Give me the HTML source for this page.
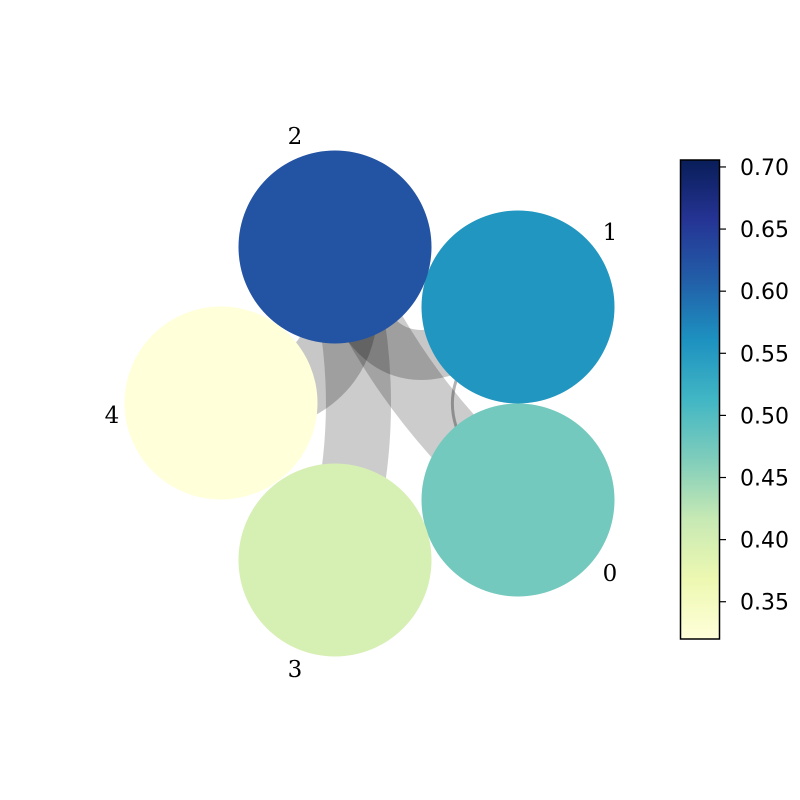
<!DOCTYPE html>
<html><head><meta charset="utf-8"><style>
html,body{margin:0;padding:0;background:#fff;}
svg{display:block;}
</style></head><body>
<svg id="chart" width="800" height="800" viewBox="0 0 800 800" xmlns="http://www.w3.org/2000/svg">
<defs>
<linearGradient id="cbgrad" x1="0" y1="1" x2="0" y2="0">
<stop offset="0" stop-color="#ffffd9"/><stop offset="0.125" stop-color="#edf8b1"/>
<stop offset="0.25" stop-color="#c7e9b4"/><stop offset="0.375" stop-color="#7fcdbb"/>
<stop offset="0.5" stop-color="#41b6c4"/><stop offset="0.625" stop-color="#1d91c0"/>
<stop offset="0.75" stop-color="#225ea8"/><stop offset="0.875" stop-color="#253494"/>
<stop offset="1" stop-color="#081d58"/>
</linearGradient>
</defs>
<g id="edges"></g><g id="nodes"></g><g id="labels"></g><g id="colorbar"></g>
</svg>
<script>
const nodeIds = ['0','1','2','3','4'];
const nodeValues = [0.474, 0.555, 0.622, 0.397, 0.32];
const edgeSources = [2, 2, 2, 2, 1];
const edgeTargets = [3, 0, 4, 1, 0];
const edgeWeights = [0.65, 0.6, 0.7, 0.5, 0.03];
const cbTicks = [0.35, 0.40, 0.45, 0.50, 0.55, 0.60, 0.65, 0.70];
const vmin = 0.32, vmax = 0.7056;

const NS = 'http://www.w3.org/2000/svg';
const pos = [[518,500],[518,307],[335,247],[335,560],[221,403]];
const curv = [0.15, -0.12, 0.62, -0.82, -0.68];
const edgeOpacity = [0.2, 0.2, 0.22, 0.22, 0.3];
const stops = ['#ffffd9','#edf8b1','#c7e9b4','#7fcdbb','#41b6c4','#1d91c0','#225ea8','#253494','#081d58'];
function hex(h){return [1,3,5].map(i=>parseInt(h.substr(i,2),16));}
function cmap(v){
  let t=Math.max(0,Math.min(1,(v-vmin)/(vmax-vmin)))*(stops.length-1);
  let i=Math.min(Math.floor(t),stops.length-2), f=t-i;
  let a=hex(stops[i]), b=hex(stops[i+1]);
  return 'rgb('+a.map((x,k)=>Math.round(x+(b[k]-x)*f)).join(',')+')';
}
function mk(tag,attrs,parent){const e=document.createElementNS(NS,tag);for(const k in attrs)e.setAttribute(k,attrs[k]);parent.appendChild(e);return e;}
const gE=document.getElementById('edges'), gN=document.getElementById('nodes'), gL=document.getElementById('labels'), gC=document.getElementById('colorbar');
edgeSources.forEach((s,i)=>{
  const t=edgeTargets[i], a=pos[s], b=pos[t];
  const mx=(a[0]+b[0])/2, my=(a[1]+b[1])/2, dx=b[0]-a[0], dy=b[1]-a[1];
  const cx=mx+curv[i]*dy, cy=my-curv[i]*dx;
  const p=mk('path',{d:`M${a[0]},${a[1]} Q${cx},${cy} ${b[0]},${b[1]}`,fill:'none',stroke:'#000','stroke-opacity':edgeOpacity[i],'stroke-width':Math.max(2.5,edgeWeights[i]*100)},gE);
  
  
});
const labelPos=[[610,573],[610,232],[295,136],[295,669],[112,415]];
nodeIds.forEach((id,i)=>{
  const c=mk('circle',{cx:pos[i][0],cy:pos[i][1],r:96.5,fill:cmap(nodeValues[i])},gN);
  
  
  const tx=mk('text',{x:labelPos[i][0],y:labelPos[i][1]+8,'text-anchor':'middle','font-family':'"DejaVu Serif","Liberation Serif",serif','font-size':'23',fill:'#000'},gL);
  tx.textContent=id;
  
  
});
const cbTop=160, cbBot=639;
const ys=v=>cbBot-(v-vmin)/(vmax-vmin)*(cbBot-cbTop);
const bar=mk('rect',{x:680.5,y:cbTop,width:39,height:cbBot-cbTop,fill:'url(#cbgrad)',stroke:'#000','stroke-width':1.5},gC);


cbTicks.forEach(v=>{
  const y=ys(v);
  const l=mk('line',{x1:720,x2:726,y1:y,y2:y,stroke:'#000','stroke-width':1.2},gC);
  
  
  const t=mk('text',{x:740,y:y+8,'font-family':'"DejaVu Sans","Liberation Sans",sans-serif','font-size':'22',fill:'#000'},gC);
  t.textContent=v.toFixed(2);
  
  
});
</script>
</body></html>
